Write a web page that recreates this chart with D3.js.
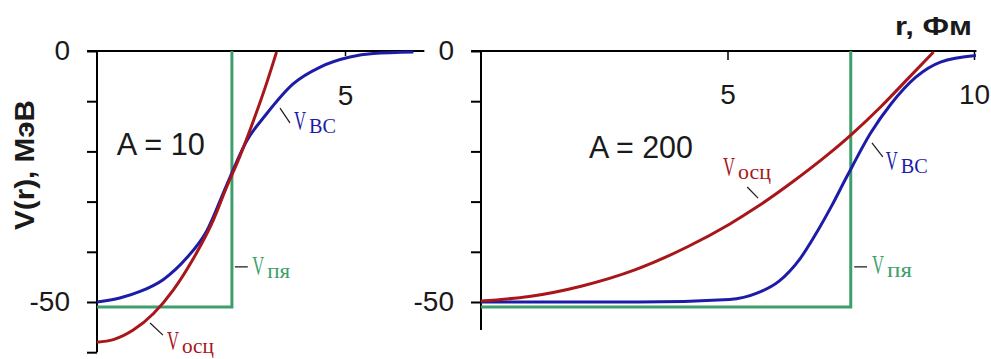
<!DOCTYPE html>
<html>
<head>
<meta charset="utf-8">
<script src="https://cdn.jsdelivr.net/npm/d3@7"></script>
<style>
  body { margin: 0; background: #fff; }
  svg { display: block; }
</style>
</head>
<body>
<svg id="chart" width="991" height="359"></svg>
<script>
// A = 10 panel, r in fm, V in MeV
const rWS10 = [0, 0.46, 0.87, 1.34, 1.81, 2.21, 2.61, 3.02, 3.42, 3.96, 4.5, 5.1, 5.57, 6.38];
const vWS10 = [-50, -49.2, -47.9, -45.5, -41.2, -35.9, -26.8, -17.9, -12.5, -6.5, -3.2, -1.2, -0.5, -0.2];
const rOsc10 = [0, 0.33, 0.73, 1.14, 1.54, 1.94, 2.35, 2.61, 2.88, 3.15, 3.42, 3.62];
const vOsc10 = [-58, -57.5, -55.6, -52.3, -47.6, -41.4, -33.6, -27.2, -21, -14, -6.4, -0.2];
const rWell10 = [0, 2.72, 2.72];
const vWell10 = [-51, -51, 0];

// A = 200 panel
const rWS200 = [0, 3.2, 5.04, 5.61, 6.04, 6.47, 6.83, 7.11, 7.4, 7.54, 7.9, 8.32, 8.82, 9.32, 10.04];
const vWS200 = [-50, -50, -49.5, -48.2, -45.9, -41.4, -35.8, -30.9, -25.4, -22.8, -16.4, -10.5, -5.2, -2.2, -0.9];
const rOsc200 = [0, 0.98, 2.05, 3.12, 4.19, 5.04, 5.61, 6.33, 7.04, 7.54, 8.11, 8.68, 9.18];
const vOsc200 = [-49.8, -48.9, -46.8, -43.6, -39, -34.5, -31, -26, -20.6, -16.4, -11.1, -5.3, -0.2];
const rWell200 = [0, 7.5, 7.5];
const vWell200 = [-51, -51, 0];

// ticks
const yTicks10 = [0, -10, -20, -30, -40, -50, -60];
const yTicks200 = [0, -10, -20, -30, -40, -50];
const yTickLabels = [0, -50];
const xTicks10 = [5];
const xTicks200 = [5, 10];

// series labels: [r, V] of the "V", subscript, leader line in data units
const labels10 = [
  { at: [3.97, -15.7], sub: "ВС", color: "blue", subW: 27, lead: [[3.69, -11.4], [3.89, -14.3]] },
  { at: [3.13, -44.6], sub: "пя", color: "green", subW: 23, lead: [[2.78, -43], [3.04, -43]] },
  { at: [1.41, -59.6], sub: "осц", color: "red", subW: 32, lead: [[1.07, -54.2], [1.33, -56.6]] }
];
const labels200 = [
  { at: [4.91, -24.9], sub: "осц", color: "red", subW: 33, lead: [[5.4, -27.1], [5.62, -29.3]] },
  { at: [8.21, -23.7], sub: "ВС", color: "blue", subW: 27, lead: [[7.93, -18.3], [8.15, -21.1]] },
  { at: [7.93, -44.4], sub: "пя", color: "green", subW: 25, lead: [[7.57, -43], [7.83, -43]] }
];

const COLORS = { red: "#a8161a", blue: "#1c1ca8", green: "#3f9f6c" };
const INK = "#1a1a1a";
const SANS = "Arial, 'Liberation Sans', sans-serif";
const SERIF = "'Liberation Serif', 'Times New Roman', serif";

const svg = d3.select("#chart");
svg.append("rect").attr("width", 991).attr("height", 359).attr("fill", "#fff");

const y = d3.scaleLinear().domain([0, -50]).range([51, 302]);
const xLeft = d3.scaleLinear().domain([0, 5]).range([97, 345]);
const xRight = d3.scaleLinear().domain([0, 10]).range([481, 974]);

function zip(rs, vs) {
  return rs.map((r, i) => [r, vs[i]]);
}

// squeeze a text horizontally so it is `width` px wide
function squeezedText(parent, x, y, str, size, color, width) {
  const g = parent.append("g");
  const t = g.append("text")
    .attr("font-family", SERIF).attr("font-size", size)
    .attr("fill", color)
    .text(str);
  const natural = t.node().getComputedTextLength();
  g.attr("transform", `translate(${x},${y}) scale(${width / natural},1)`);
}

function drawPanel(x, p) {
  const g = svg.append("g");

  // axis lines (top r-axis at V = 0, vertical V-axis at r = 0)
  g.append("line")
    .attr("x1", x(p.rFrom)).attr("x2", x(p.rTo))
    .attr("y1", y(0)).attr("y2", y(0))
    .attr("stroke", "#000").attr("stroke-width", 2);
  g.append("line")
    .attr("x1", x(0)).attr("x2", x(0))
    .attr("y1", y(0)).attr("y2", y(p.vTo))
    .attr("stroke", "#000").attr("stroke-width", 2);

  const yAxis = d3.axisLeft(y)
    .tickValues(p.yTicks)
    .tickSize(10)
    .tickPadding(17)
    .tickFormat(d => (yTickLabels.includes(d) ? String(d) : ""));
  g.append("g")
    .attr("transform", `translate(${x(0)},0)`)
    .call(yAxis)
    .call(a => a.select(".domain").remove())
    .call(a => a.selectAll("line").attr("stroke", "#000").attr("stroke-width", 2))
    .call(a => a.selectAll("text")
      .attr("font-family", SANS).attr("font-size", 28).attr("fill", INK));

  const xAxis = d3.axisBottom(x)
    .tickValues(p.xTicks)
    .tickSize(p.xTickSize)
    .tickPadding(p.xTickPadding)
    .tickFormat(d => String(d));
  g.append("g")
    .attr("transform", `translate(0,${y(0)})`)
    .call(xAxis)
    .call(a => a.select(".domain").remove())
    .call(a => a.selectAll("line").attr("stroke", "#000").attr("stroke-width", 1.5))
    .call(a => a.selectAll("text")
      .attr("font-family", SANS).attr("font-size", 28).attr("fill", INK));

  const smooth = d3.line().x(d => x(d[0])).y(d => y(d[1])).curve(d3.curveMonotoneX);
  const straight = d3.line().x(d => x(d[0])).y(d => y(d[1]));

  g.append("path").attr("d", straight(p.well))
    .attr("fill", "none").attr("stroke", COLORS.green).attr("stroke-width", 3);
  g.append("path").attr("d", smooth(p.ws))
    .attr("fill", "none").attr("stroke", COLORS.blue).attr("stroke-width", 3);
  g.append("path").attr("d", smooth(p.osc))
    .attr("fill", "none").attr("stroke", COLORS.red).attr("stroke-width", 3);

  // A = ...
  g.append("text")
    .attr("x", x(p.massAt[0])).attr("y", y(p.massAt[1]))
    .attr("font-family", SANS).attr("font-size", 31).attr("fill", INK)
    .attr("textLength", p.massW).attr("lengthAdjust", "spacingAndGlyphs")
    .text(p.massText);

  p.labels.forEach(l => {
    g.append("line")
      .attr("x1", x(l.lead[0][0])).attr("y1", y(l.lead[0][1]))
      .attr("x2", x(l.lead[1][0])).attr("y2", y(l.lead[1][1]))
      .attr("stroke", "#222").attr("stroke-width", 1.3);
    const lx = x(l.at[0]);
    const ly = y(l.at[1]);
    squeezedText(g, lx, ly, "V", 28, COLORS[l.color], 12);
    squeezedText(g, lx + 15, ly + 3, l.sub, 22, COLORS[l.color], l.subW);
  });
}

drawPanel(xLeft, {
  rFrom: -0.2, rTo: 6.6, vTo: -60,
  yTicks: yTicks10, xTicks: xTicks10, xTickSize: 5, xTickPadding: 29,
  well: zip(rWell10, vWell10), ws: zip(rWS10, vWS10), osc: zip(rOsc10, vOsc10),
  massText: "A = 10", massAt: [0.4, -20.7], massW: 88,
  labels: labels10
});

drawPanel(xRight, {
  rFrom: -0.2, rTo: 10.05, vTo: -55.6,
  yTicks: yTicks200, xTicks: xTicks200, xTickSize: 9, xTickPadding: 24,
  well: zip(rWell200, vWell200), ws: zip(rWS200, vWS200), osc: zip(rOsc200, vOsc200),
  massText: "A = 200", massAt: [2.19, -21.3], massW: 104,
  labels: labels200
});

// axis titles
svg.append("text")
  .attr("transform", "translate(34,165) rotate(-90)")
  .attr("text-anchor", "middle")
  .attr("font-family", SANS).attr("font-size", 28).attr("font-weight", "bold")
  .attr("fill", INK)
  .attr("textLength", 130).attr("lengthAdjust", "spacingAndGlyphs")
  .text("V(r), МэВ");

svg.append("text")
  .attr("x", 972).attr("y", 35)
  .attr("text-anchor", "end")
  .attr("font-family", SANS).attr("font-size", 26).attr("font-weight", "bold")
  .attr("fill", INK)
  .attr("textLength", 77).attr("lengthAdjust", "spacingAndGlyphs")
  .text("r, Фм");
</script>
</body>
</html>
